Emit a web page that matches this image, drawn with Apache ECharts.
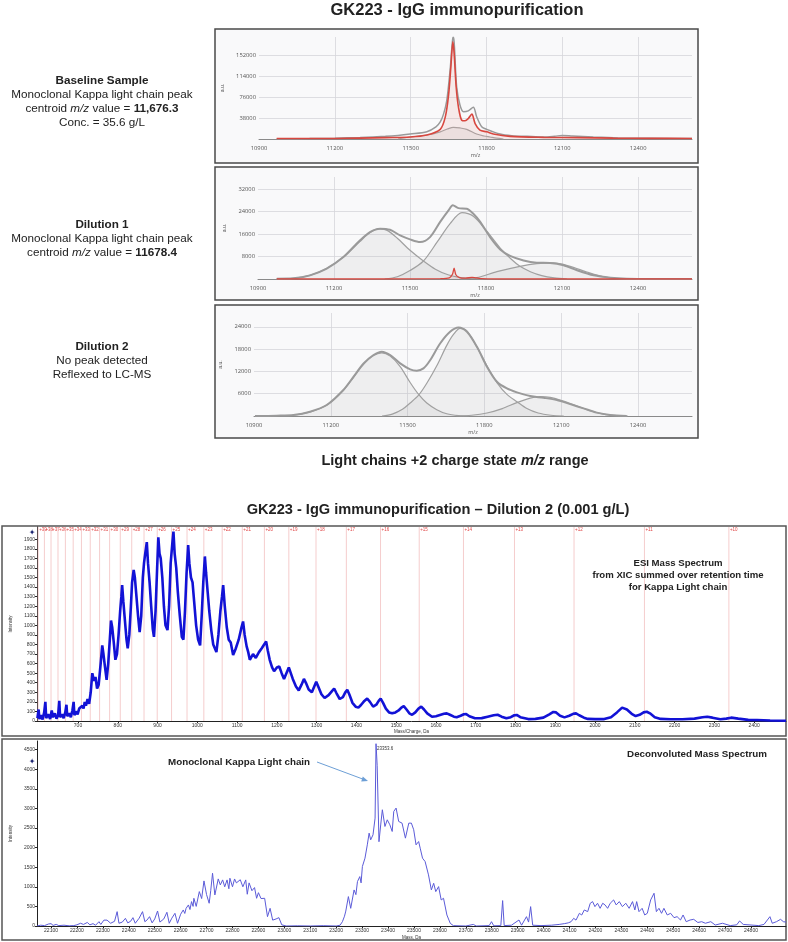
<!DOCTYPE html>
<html><head><meta charset="utf-8">
<script src="https://cdn.jsdelivr.net/npm/echarts@6.0.0/dist/echarts.min.js"></script>
<style>html,body{margin:0;padding:0;background:#fff}#c{width:788px;height:942px}</style>
</head><body><div id="c"></div>
<script>
// ---------- tick labels ----------
const topXTicks = [10900, 11200, 11500, 11800, 12100, 12400];
const p1YTicks = [38000, 76000, 114000, 152000];
const p2YTicks = [8000, 16000, 24000, 32000];
const p3YTicks = [6000, 12000, 18000, 24000];
const esiXTicks = [700, 800, 900, 1000, 1100, 1200, 1300, 1400, 1500, 1600, 1700, 1800, 1900, 2000, 2100, 2200, 2300, 2400];
const esiYTicks = [0, 100, 200, 300, 400, 500, 600, 700, 800, 900, 1000, 1100, 1200, 1300, 1400, 1500, 1600, 1700, 1800, 1900];
const decXTicks = [22100, 22200, 22300, 22400, 22500, 22600, 22700, 22800, 22900, 23000, 23100, 23200, 23300, 23400, 23500, 23600, 23700, 23800, 23900, 24000, 24100, 24200, 24300, 24400, 24500, 24600, 24700, 24800];
const decYTicks = [0, 500, 1000, 1500, 2000, 2500, 3000, 3500, 4000, 4500];

// ---------- panel 1 (baseline sample) ----------
const p1Total = [[10970,300],[11000,400],[11100,800],[11200,1500],[11300,2800],[11400,4800],[11450,6500],[11498,9000],[11564,13200],[11600,22000],[11617,31000],[11630,45000],[11643,70000],[11656,125000],[11662,160000],[11667,183000],[11670,184000],[11674,160000],[11682,94600],[11695,61500],[11709,49400],[11728,51000],[11748,57300],[11761,40400],[11781,22300],[11801,17500],[11854,9000],[11900,6000],[11960,4800],[12026,3600],[12070,5000],[12100,6500],[12140,5500],[12223,3600],[12320,2000],[12450,1300],[12613,900]];
const p1Red = [[10970,800],[11100,900],[11200,1000],[11300,1600],[11400,2500],[11498,3600],[11564,7200],[11617,17500],[11637,40000],[11650,80000],[11659,130000],[11667,176000],[11672,155000],[11680,94600],[11689,58000],[11702,34000],[11715,33000],[11728,37000],[11742,45000],[11755,28000],[11774,16000],[11801,13000],[11827,9000],[11893,4800],[12026,3000],[12160,2400],[12300,1600],[12450,1200],[12613,1000]];
const p1Hump = [[11450,0],[11498,3600],[11564,7200],[11617,13000],[11645,18000],[11669,21000],[11695,20000],[11722,17500],[11761,9000],[11790,5500],[11814,3600],[11840,1500],[11867,0]];

// ---------- panel 2 (dilution 1) ----------
const p2Total = [[10974,100],[11040,240],[11105,1300],[11171,3700],[11237,7800],[11302,13700],[11342,16700],[11382,17900],[11421,17500],[11461,15500],[11500,14100],[11540,13150],[11579,14900],[11619,20300],[11652,24400],[11669,26200],[11691,25200],[11724,25000],[11750,23200],[11777,20300],[11816,14900],[11856,10500],[11895,8200],[11948,6600],[12000,5800],[12053,5700],[12106,4900],[12159,3100],[12225,1300],[12291,470],[12356,120],[12449,0],[12613,0]];
const p2Red = [[10974,0],[11400,0],[11620,100],[11655,400],[11668,1800],[11674,3900],[11681,1500],[11695,500],[11720,300],[11745,600],[11755,500],[11780,100],[11850,0],[12613,0]];
const p2G1 = [[10974,100],[11040,250],[11105,1300],[11171,3700],[11237,7800],[11302,13300],[11342,16500],[11378,17900],[11410,17300],[11450,14500],[11500,10200],[11553,6400],[11600,3500],[11650,1500],[11700,500],[11750,100],[11790,0]];
const p2G2 = [[11400,0],[11450,800],[11500,3000],[11553,6400],[11606,13000],[11659,19800],[11705,23600],[11750,22300],[11803,17000],[11856,11000],[11900,7000],[11934,4500],[11975,2600],[12020,1200],[12070,400],[12120,0]];
const p2G3 = [[11700,0],[11763,500],[11843,2600],[11934,4500],[12000,5450],[12066,5700],[12132,4500],[12198,2500],[12264,800],[12330,150],[12390,0]];

// ---------- panel 3 (dilution 2) ----------
const p3Total = [[10904,0],[10989,90],[11054,270],[11119,1160],[11184,2950],[11249,7000],[11289,10600],[11328,14150],[11367,16400],[11399,17300],[11432,16400],[11471,14150],[11510,12550],[11536,12200],[11562,12800],[11588,15000],[11627,19500],[11666,22650],[11699,23800],[11732,22650],[11771,18600],[11810,13250],[11849,9200],[11888,7400],[11927,6350],[11979,5370],[12031,4900],[12083,4300],[12135,3200],[12187,2060],[12239,900],[12291,270],[12356,0]];
const p3G1 = [[11054,200],[11119,1100],[11184,2900],[11249,6900],[11289,10400],[11328,13900],[11367,16300],[11399,17000],[11432,16100],[11471,13300],[11510,9000],[11543,5800],[11575,3500],[11614,1700],[11653,600],[11700,100],[11740,0]];
const p3G2 = [[11400,0],[11440,500],[11480,1800],[11510,3500],[11543,5600],[11575,8800],[11614,13500],[11653,19000],[11680,22000],[11705,23550],[11732,22800],[11771,18500],[11810,13500],[11849,9000],[11888,5800],[11927,3850],[11966,2000],[12010,800],[12060,200],[12110,0]];
const p3G3 = [[11690,0],[11750,200],[11810,800],[11870,2000],[11927,3600],[11979,4800],[12018,5200],[12057,5000],[12109,4000],[12161,2700],[12213,1400],[12265,500],[12317,100],[12360,0]];

// ---------- ESI mass spectrum ----------
const esiData = [[598,30],[601,120],[603,20],[607,60],[611,15],[615,90],[618,200],[620,30],[625,70],[630,20],[634,110],[637,40],[642,80],[646,25],[650,60],[653,210],[655,40],[660,70],[664,30],[668,90],[671,170],[673,50],[678,80],[682,40],[686,110],[689,200],[691,60],[695,100],[699,70],[703,130],[707,110],[711,160],[714,130],[717,200],[720,160],[724,230],[728,180],[732,300],[736,500],[740,420],[744,460],[748,340],[752,380],[757,600],[761,790],[764,700],[768,560],[772,430],[776,600],[780,850],[783,1050],[786,980],[790,820],[794,640],[798,700],[802,900],[806,1150],[809,1300],[811,1420],[814,1250],[818,1050],[822,850],[825,760],[829,900],[833,1200],[836,1450],[840,1580],[843,1500],[847,1300],[851,1100],[855,930],[859,1100],[863,1500],[866,1650],[869,1750],[873,1870],[876,1650],[880,1450],[884,1200],[888,960],[891,880],[895,1150],[899,1600],[902,1920],[905,1750],[908,1700],[912,1500],[916,1200],[920,1000],[925,950],[929,1200],[933,1650],[937,1850],[940,1980],[943,1750],[947,1600],[951,1350],[956,1100],[961,880],[965,850],[969,1150],[973,1550],[977,1840],[980,1650],[984,1500],[988,1450],[992,1250],[997,1000],[1002,850],[1007,790],[1011,1100],[1015,1450],[1019,1720],[1022,1550],[1026,1350],[1030,1150],[1035,950],[1040,800],[1048,720],[1053,900],[1058,1150],[1062,1300],[1065,1420],[1069,1200],[1074,980],[1079,850],[1084,820],[1090,690],[1096,750],[1104,850],[1110,960],[1115,1040],[1119,900],[1124,780],[1128,720],[1132,640],[1140,700],[1147,660],[1155,720],[1162,760],[1168,800],[1173,830],[1177,740],[1182,640],[1188,560],[1193,520],[1200,560],[1206,570],[1212,500],[1218,440],[1224,500],[1230,560],[1234,540],[1240,440],[1248,360],[1255,320],[1262,380],[1268,440],[1274,390],[1280,330],[1288,300],[1294,360],[1299,410],[1304,360],[1312,280],[1320,240],[1330,270],[1338,310],[1344,340],[1350,290],[1358,230],[1366,250],[1372,300],[1377,325],[1382,280],[1390,190],[1398,150],[1405,140],[1412,170],[1420,210],[1427,235],[1434,200],[1442,150],[1450,170],[1456,210],[1461,235],[1467,190],[1474,130],[1482,90],[1490,80],[1498,90],[1506,110],[1513,140],[1519,155],[1526,120],[1533,80],[1540,65],[1548,90],[1556,130],[1563,150],[1570,120],[1578,80],[1590,45],[1600,50],[1612,65],[1620,75],[1627,80],[1635,65],[1645,45],[1652,40],[1662,55],[1670,70],[1676,72],[1684,50],[1698,28],[1715,30],[1730,45],[1745,60],[1755,65],[1765,45],[1777,28],[1788,40],[1797,60],[1803,63],[1812,40],[1832,20],[1850,22],[1870,35],[1885,70],[1895,95],[1902,90],[1912,55],[1923,38],[1935,55],[1945,75],[1952,80],[1960,60],[1972,35],[1982,22],[2000,20],[2023,20],[2040,40],[2055,90],[2068,140],[2073,150],[2080,120],[2092,75],[2102,52],[2112,65],[2122,90],[2130,97],[2138,80],[2150,40],[2165,22],[2190,18],[2220,18],[2250,25],[2270,40],[2282,45],[2295,35],[2315,18],[2330,25],[2342,35],[2360,25],[2385,12],[2407,10],[2440,6],[2480,3]];
const chargeStates = [39,38,37,36,35,34,33,32,31,30,29,28,27,26,25,24,23,22,21,20,19,18,17,16,15,14,13,12,11,10];
const chargeMz = [599.8,615.6,632.2,649.7,668.3,687.9,708.7,730.8,754.3,779.5,806.3,835.1,866.0,899.2,935.2,974.1,1016.4,1062.5,1113.1,1168.7,1230.1,1298.4,1374.7,1460.6,1557.9,1669.1,1797.4,1947.1,2124.1,2336.4];

// ---------- Deconvoluted mass spectrum ----------
const deconvData = [[22046,0],[22060,20],[22075,10],[22090,50],[22100,60],[22108,15],[22120,40],[22130,10],[22150,20],[22170,5],[22188,10],[22200,30],[22214,70],[22225,40],[22240,90],[22250,30],[22262,60],[22272,20],[22285,110],[22292,40],[22304,150],[22316,150],[22330,70],[22345,120],[22355,366],[22362,70],[22375,100],[22387,196],[22396,80],[22407,120],[22416,213],[22425,70],[22440,200],[22453,366],[22462,110],[22470,150],[22480,238],[22490,80],[22500,180],[22511,383],[22520,100],[22535,180],[22547,350],[22556,70],[22566,200],[22578,324],[22588,70],[22600,300],[22610,409],[22616,320],[22621,451],[22630,537],[22636,420],[22642,622],[22648,500],[22651,707],[22660,500],[22672,877],[22681,700],[22690,1150],[22700,800],[22710,580],[22716,900],[22723,1346],[22732,792],[22745,1201],[22753,1048],[22762,1176],[22770,1000],[22779,1176],[22786,950],[22790,1218],[22800,1000],[22808,1200],[22815,1100],[22820,1080],[22830,1180],[22840,1000],[22851,1176],[22857,810],[22864,1100],[22875,900],[22885,980],[22893,707],[22900,850],[22910,700],[22924,707],[22935,238],[22945,451],[22955,150],[22968,180],[22979,213],[22990,30],[23007,0],[23050,5],[23100,0],[23150,8],[23200,0],[23215,20],[23224,110],[23232,250],[23237,380],[23247,750],[23256,451],[23269,920],[23276,800],[23282,1133],[23291,1260],[23296,1100],[23301,1517],[23311,1730],[23320,2070],[23327,2369],[23333,2198],[23342,2326],[23350,2752],[23353.6,4650],[23358,4100],[23365,2150],[23372,2600],[23378,2965],[23388,2539],[23397,2709],[23407,2581],[23416,2411],[23422,2922],[23431,3008],[23441,2667],[23454,2624],[23467,2241],[23480,2624],[23490,2624],[23499,2454],[23508,2070],[23518,2155],[23524,1985],[23533,1730],[23543,1644],[23556,1304],[23567,920],[23576,1090],[23584,877],[23595,1005],[23605,665],[23614,707],[23627,281],[23640,68],[23652,9],[23700,0],[23729,40],[23740,0],[23790,10],[23799,110],[23808,5],[23835,10],[23842,648],[23848,10],[23876,20],[23905,153],[23915,20],[23934,238],[23942,100],[23950,494],[23958,20],[23990,10],[24030,20],[24060,40],[24080,60],[24095,80],[24106,110],[24116,196],[24125,150],[24138,324],[24147,280],[24157,409],[24170,366],[24180,580],[24189,622],[24198,494],[24208,580],[24218,451],[24228,580],[24237,537],[24247,451],[24257,580],[24270,665],[24280,537],[24292,622],[24304,494],[24317,580],[24330,451],[24343,622],[24352,409],[24359,622],[24368,366],[24380,451],[24390,281],[24400,324],[24413,665],[24426,835],[24435,366],[24445,451],[24455,324],[24464,451],[24477,281],[24490,324],[24503,213],[24515,238],[24528,153],[24538,281],[24550,110],[24565,153],[24579,170],[24595,90],[24610,110],[24624,70],[24645,110],[24662,25],[24690,70],[24720,10],[24745,30],[24756,128],[24770,40],[24800,25],[24830,10],[24850,40],[24873,238],[24882,70],[24898,110],[24914,170],[24925,110],[24935,100]];
const peakLabel = '23353.6';

// ---------- chart ----------
const FONT = 'Liberation Sans';
const chart = echarts.init(document.getElementById('c'), null, {renderer: 'canvas'});
const gridCol = '#d6d6da';
const plain = function (v) { return String(v); };

function topX(gi, max) {
  return { gridIndex: gi, type: 'value', min: 10900, max: max,
    axisLine: {show: true, lineStyle: {color: '#8a8a8a', width: 1}},
    axisTick: {show: false, customValues: topXTicks},
    axisLabel: {customValues: topXTicks, formatter: plain, fontSize: 5.8, color: '#555', margin: 6, fontFamily: 'Open Sans'},
    splitLine: {show: true, lineStyle: {color: ['rgba(0,0,0,0)', gridCol, gridCol, gridCol, gridCol, gridCol], width: 0.8}},
    name: 'm/z', nameLocation: 'middle', nameGap: 13, nameTextStyle: {fontSize: 5.5, color: '#555', fontFamily: 'Open Sans'} };
}
function topY(gi, max, ticks) {
  return { gridIndex: gi, type: 'value', min: 0, max: max,
    axisLine: {show: false}, axisTick: {show: false, customValues: ticks},
    axisLabel: {customValues: ticks, formatter: plain, fontSize: 5.8, color: '#555', margin: 3, fontFamily: 'Open Sans'},
    splitLine: {show: true, lineStyle: {color: gridCol, width: 0.8}},
    name: 'a.u.', nameLocation: 'middle', nameGap: 27, nameRotate: 90, nameTextStyle: {fontSize: 5, color: '#555'} };
}
function ln(data, gi, color, width, area, z, smooth) {
  const s = { type: 'line', data: data, xAxisIndex: gi, yAxisIndex: gi, symbol: 'none', smooth: smooth === undefined ? 0.3 : smooth,
    lineStyle: {color: color, width: width}, z: z || 2, silent: true, animation: false };
  if (area) s.areaStyle = {color: area, origin: 'start'};
  return s;
}

const option = {
  animation: false,
  textStyle: {fontFamily: FONT},
  grid: [
    {left: 259, top: 37, width: 433, height: 102},
    {left: 258, top: 177, width: 434, height: 102},
    {left: 254, top: 313, width: 438, height: 103},
    {left: 33, top: 527, width: 753, height: 194},
    {left: 33, top: 741, width: 753, height: 185}
  ],
  xAxis: [
    topX(0, 12613), topX(1, 12613), topX(2, 12611),
    { gridIndex: 3, type: 'value', min: 597, max: 2480,
      axisLine: {show: true, lineStyle: {color: '#222', width: 1}},
      axisTick: {show: true, customValues: esiXTicks, length: 2, lineStyle: {color: '#222'}},
      axisLabel: {customValues: esiXTicks, formatter: plain, fontSize: 5, color: '#333', margin: 2},
      splitLine: {show: false},
      name: 'Mass/Charge, Da', nameLocation: 'middle', nameGap: 8, nameTextStyle: {fontSize: 4.5, color: '#333'} },
    { gridIndex: 4, type: 'value', min: 22046, max: 24935,
      axisLine: {show: true, lineStyle: {color: '#222', width: 1}},
      axisTick: {show: true, customValues: decXTicks, length: 2, lineStyle: {color: '#222'}},
      axisLabel: {customValues: decXTicks, formatter: plain, fontSize: 5, color: '#333', margin: 2},
      splitLine: {show: false},
      name: 'Mass, Da', nameLocation: 'middle', nameGap: 9, nameTextStyle: {fontSize: 4.5, color: '#333'} }
  ],
  yAxis: [
    topY(0, 184600, p1YTicks), topY(1, 36270, p2YTicks), topY(2, 27700, p3YTicks),
    { gridIndex: 3, type: 'value', min: 0, max: 2028,
      axisLine: {show: true, lineStyle: {color: '#222', width: 1}},
      axisTick: {show: true, customValues: esiYTicks, length: 2, lineStyle: {color: '#222'}},
      axisLabel: {customValues: esiYTicks, formatter: plain, fontSize: 5, color: '#333', margin: 2},
      splitLine: {show: false},
      name: 'Intensity', nameLocation: 'middle', nameGap: 22, nameRotate: 90, nameTextStyle: {fontSize: 4.5, color: '#333'} },
    { gridIndex: 4, type: 'value', min: 0, max: 4719,
      axisLine: {show: true, lineStyle: {color: '#222', width: 1}},
      axisTick: {show: true, customValues: decYTicks, length: 2, lineStyle: {color: '#222'}},
      axisLabel: {customValues: decYTicks, formatter: plain, fontSize: 5, color: '#333', margin: 2},
      splitLine: {show: false},
      name: 'Intensity', nameLocation: 'middle', nameGap: 22, nameRotate: 90, nameTextStyle: {fontSize: 4.5, color: '#333'} }
  ],
  series: [
    ln(p1Hump, 0, '#a8a8a8', 1.2, 'rgba(175,175,180,0.22)', 2),
    ln(p1Total, 0, '#9a9a9a', 1.5, null, 3),
    ln(p1Red, 0, '#d8473f', 1.6, 'rgba(220,90,80,0.14)', 4),
    ln(p2G1, 1, '#a0a0a0', 1.2, 'rgba(175,175,180,0.2)', 2),
    ln(p2G2, 1, '#a0a0a0', 1.2, 'rgba(175,175,180,0.2)', 2),
    ln(p2G3, 1, '#a0a0a0', 1.2, 'rgba(175,175,180,0.2)', 2),
    ln(p2Total, 1, '#9a9a9a', 2, null, 3),
    ln(p2Red, 1, '#d8473f', 1.3, 'rgba(220,90,80,0.14)', 4, 0.2),
    ln(p3G1, 2, '#a0a0a0', 1.2, 'rgba(175,175,180,0.2)', 2),
    ln(p3G2, 2, '#a0a0a0', 1.2, 'rgba(175,175,180,0.2)', 2),
    ln(p3G3, 2, '#a0a0a0', 1.2, 'rgba(175,175,180,0.2)', 2),
    ln(p3Total, 2, '#9a9a9a', 2, null, 3),
    { type: 'custom', xAxisIndex: 3, yAxisIndex: 3, silent: true, z: 1, animation: false,
      data: chargeMz.map((m, i) => [m, chargeStates[i]]),
      renderItem: function (params, api) {
        const x = api.value(0);
        const p0 = api.coord([x, 0]);
        const p1 = api.coord([x, 2028]);
        return { type: 'group', children: [
          {type: 'line', shape: {x1: p0[0], y1: p0[1], x2: p1[0], y2: p1[1]}, style: {stroke: '#f3c0c0', lineWidth: 0.8}},
          {type: 'text', style: {text: '+' + api.value(1), x: p1[0] + 1, y: p1[1] + 3, fill: '#e04848', font: '4.5px "Liberation Sans"', align: 'left', verticalAlign: 'middle'}}
        ]};
      } },
    ln(esiData, 3, '#1212d6', 2.6, null, 3, false),
    ln(deconvData, 4, '#5b5bd8', 1, null, 3, false)
  ],
  graphic: [
    {type: 'rect', z: -10, shape: {x: 215, y: 29, width: 483, height: 134}, style: {fill: '#f9f9fa', stroke: '#4a4a4a', lineWidth: 1.5}},
    {type: 'rect', z: -10, shape: {x: 215, y: 167, width: 483, height: 133}, style: {fill: '#f9f9fa', stroke: '#4a4a4a', lineWidth: 1.5}},
    {type: 'rect', z: -10, shape: {x: 215, y: 305, width: 483, height: 133}, style: {fill: '#f9f9fa', stroke: '#4a4a4a', lineWidth: 1.5}},
    {type: 'rect', z: -10, shape: {x: 2, y: 526, width: 784, height: 210}, style: {fill: '#ffffff', stroke: '#555', lineWidth: 1.5}},
    {type: 'rect', z: -10, shape: {x: 2, y: 739, width: 784, height: 201}, style: {fill: '#ffffff', stroke: '#555', lineWidth: 1.5}},
    {type: 'text', z: 100, x: 457, y: 10, style: {text: 'GK223 - IgG immunopurification', font: 'bold 16.5px "Liberation Sans"', fill: '#222', align: 'center', verticalAlign: 'middle'}},
    {type: 'text', z: 100, x: 455, y: 461, style: {text: 'Light chains +2 charge state {i|m/z} range', font: 'bold 14.5px "Liberation Sans"', fill: '#222', align: 'center', verticalAlign: 'middle',
      rich: {i: {fontStyle: 'italic', fontWeight: 'bold', fontSize: 14.5, fontFamily: 'Liberation Sans', fill: '#222'}}}},
    {type: 'text', z: 100, x: 438, y: 510, style: {text: 'GK223 - IgG immunopurification \u2013 Dilution 2 (0.001 g/L)', font: 'bold 14.6px "Liberation Sans"', fill: '#222', align: 'center', verticalAlign: 'middle'}},
    {type: 'text', z: 100, x: 102, y: 74, style: {text: '{b|Baseline Sample}\nMonoclonal Kappa light chain peak\ncentroid {i|m/z} value = {b|11,676.3}\nConc. = 35.6 g/L',
      font: '11.7px "Liberation Sans"', lineHeight: 14, fill: '#222', align: 'center', verticalAlign: 'top',
      rich: {b: {fontWeight: 'bold', fontSize: 11.7, fontFamily: 'Liberation Sans', fill: '#222', lineHeight: 14}, i: {fontStyle: 'italic', fontSize: 11.7, fontFamily: 'Liberation Sans', fill: '#222', lineHeight: 14}}}},
    {type: 'text', z: 100, x: 102, y: 218, style: {text: '{b|Dilution 1}\nMonoclonal Kappa light chain peak\ncentroid {i|m/z} value = {b|11678.4}',
      font: '11.7px "Liberation Sans"', lineHeight: 14, fill: '#222', align: 'center', verticalAlign: 'top',
      rich: {b: {fontWeight: 'bold', fontSize: 11.7, fontFamily: 'Liberation Sans', fill: '#222', lineHeight: 14}, i: {fontStyle: 'italic', fontSize: 11.7, fontFamily: 'Liberation Sans', fill: '#222', lineHeight: 14}}}},
    {type: 'text', z: 100, x: 102, y: 340, style: {text: '{b|Dilution 2}\nNo peak detected\nReflexed to LC-MS',
      font: '11.7px "Liberation Sans"', lineHeight: 14, fill: '#222', align: 'center', verticalAlign: 'top',
      rich: {b: {fontWeight: 'bold', fontSize: 11.7, fontFamily: 'Liberation Sans', fill: '#222', lineHeight: 14}}}},
    {type: 'text', z: 100, x: 678, y: 557, style: {text: 'ESI Mass Spectrum\nfrom XIC summed over retention time\nfor Kappa Light chain', font: 'bold 9.6px "Liberation Sans"', lineHeight: 12, fill: '#222', align: 'center', verticalAlign: 'top'}},
    {type: 'text', z: 100, x: 767, y: 754, style: {text: 'Deconvoluted Mass Spectrum', font: 'bold 9.8px "Liberation Sans"', fill: '#222', align: 'right', verticalAlign: 'middle'}},
    {type: 'text', z: 100, x: 168, y: 762, style: {text: 'Monoclonal Kappa Light chain', font: 'bold 9.8px "Liberation Sans"', fill: '#222', align: 'left', verticalAlign: 'middle'}},
    {type: 'text', z: 100, x: 377, y: 749, style: {text: peakLabel, font: '4.5px "Liberation Sans"', fill: '#333', align: 'left', verticalAlign: 'middle'}},
    {type: 'line', z: 100, shape: {x1: 317, y1: 762, x2: 364, y2: 779.5}, style: {stroke: '#6d9fd6', lineWidth: 1}},
    {type: 'polygon', z: 100, shape: {points: [[368, 781], [362.8, 776.4], [361.2, 781.4]]}, style: {fill: '#6d9fd6'}},
    {type: 'text', z: 100, x: 32, y: 533, style: {text: '\u2726', font: '8px "DejaVu Sans"', fill: '#1b2470', align: 'center', verticalAlign: 'middle'}},
    {type: 'text', z: 100, x: 32, y: 762, style: {text: '\u2726', font: '8px "DejaVu Sans"', fill: '#1b2470', align: 'center', verticalAlign: 'middle'}}
  ]
};
chart.setOption(option);
</script></body></html>
